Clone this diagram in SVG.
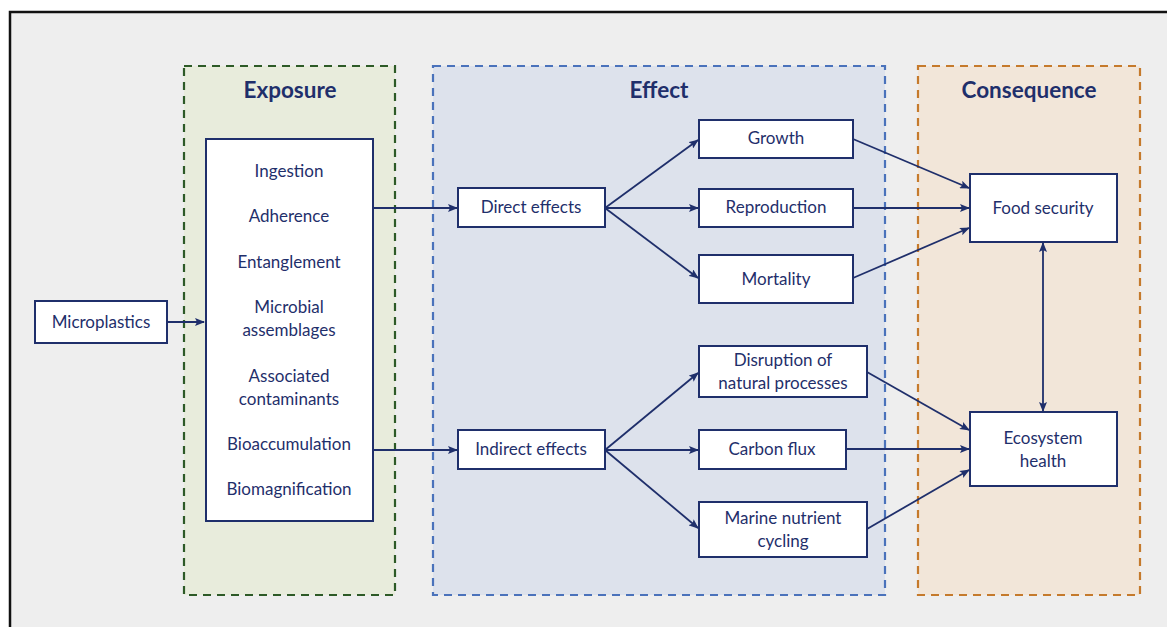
<svg xmlns="http://www.w3.org/2000/svg" width="1167" height="627" viewBox="0 0 1167 627">
<defs>
<marker id="ah" markerWidth="10" markerHeight="8" refX="9" refY="4" orient="auto" markerUnits="userSpaceOnUse">
<path d="M0,0 L10,4 L0,8 L2,4 Z" fill="#1f2f6b"/>
</marker>
<marker id="ahs" markerWidth="10" markerHeight="8" refX="1" refY="4" orient="auto" markerUnits="userSpaceOnUse">
<path d="M10,0 L0,4 L10,8 L8,4 Z" fill="#1f2f6b"/>
</marker>
</defs>
<style>
.box{fill:#ffffff;stroke:#1f2f6b;stroke-width:2}
.t{font-family:Lato,"Open Sans","Liberation Sans",sans-serif;font-size:17px;fill:#1f2f6b;text-anchor:middle}
.h{font-family:Lato,"Open Sans","Liberation Sans",sans-serif;font-size:22.5px;font-weight:bold;fill:#1f2f6b;text-anchor:middle}
.c{fill:none;stroke:#1f2f6b;stroke-width:1.8;marker-end:url(#ah)}
</style>
<rect width="1167" height="627" fill="#ffffff"/>
<rect x="10" y="12" width="1170" height="630" fill="#eeeeee" stroke="#111111" stroke-width="2.5"/>

<g id="exposure">
<rect x="184" y="66" width="211" height="529" fill="#e8ecdc" stroke="#2d5a27" stroke-width="2.2" stroke-dasharray="8,6"/>
<text class="h" x="290" y="98">Exposure</text>
</g>
<g id="effect">
<rect x="433" y="66" width="452" height="529" fill="#dde2ec" stroke="#4a72bb" stroke-width="2.2" stroke-dasharray="8,6"/>
<text class="h" x="659" y="98">Effect</text>
</g>
<g id="consequence">
<rect x="918" y="66" width="222" height="529" fill="#f2e6d9" stroke="#c57a2c" stroke-width="2.2" stroke-dasharray="8,6"/>
<text class="h" x="1029" y="98">Consequence</text>
</g>

<g id="microplastics">
<rect class="box" x="35" y="301" width="132" height="42"/>
<text class="t" x="101" y="328">Microplastics</text>
</g>
<g id="exposure-list">
<rect class="box" x="206" y="139" width="167" height="382"/>
<text class="t" x="289" y="177">Ingestion</text>
<text class="t" x="289" y="222">Adherence</text>
<text class="t" x="289" y="268">Entanglement</text>
<text class="t" x="289" y="313">Microbial</text>
<text class="t" x="289" y="336">assemblages</text>
<text class="t" x="289" y="382">Associated</text>
<text class="t" x="289" y="405">contaminants</text>
<text class="t" x="289" y="450">Bioaccumulation</text>
<text class="t" x="289" y="495">Biomagnification</text>
</g>
<g id="direct">
<rect class="box" x="458" y="188" width="147" height="39"/>
<text class="t" x="531" y="213">Direct effects</text>
</g>
<g id="indirect">
<rect class="box" x="458" y="430" width="147" height="39"/>
<text class="t" x="531" y="455">Indirect effects</text>
</g>
<g id="growth">
<rect class="box" x="699" y="120" width="154" height="38"/>
<text class="t" x="776" y="144">Growth</text>
</g>
<g id="reproduction">
<rect class="box" x="699" y="189" width="154" height="38"/>
<text class="t" x="776" y="213">Reproduction</text>
</g>
<g id="mortality">
<rect class="box" x="699" y="255" width="154" height="48"/>
<text class="t" x="776" y="285">Mortality</text>
</g>
<g id="disruption">
<rect class="box" x="699" y="346" width="168" height="51"/>
<text class="t" x="783" y="366">Disruption of</text>
<text class="t" x="783" y="389">natural processes</text>
</g>
<g id="carbon">
<rect class="box" x="699" y="430" width="147" height="39"/>
<text class="t" x="772" y="455">Carbon flux</text>
</g>
<g id="marine">
<rect class="box" x="699" y="502" width="168" height="55"/>
<text class="t" x="783" y="524">Marine nutrient</text>
<text class="t" x="783" y="547">cycling</text>
</g>
<g id="food">
<rect class="box" x="970" y="174" width="147" height="68"/>
<text class="t" x="1043" y="214">Food security</text>
</g>
<g id="ecosystem">
<rect class="box" x="970" y="412" width="147" height="74"/>
<text class="t" x="1043" y="444">Ecosystem</text>
<text class="t" x="1043" y="467">health</text>
</g>

<g id="connectors">
<line class="c" x1="167" y1="322" x2="204" y2="322"/>
<line class="c" x1="373" y1="208" x2="457" y2="208"/>
<line class="c" x1="373" y1="450" x2="457" y2="450"/>
<line class="c" x1="605" y1="208" x2="698" y2="140"/>
<line class="c" x1="605" y1="208" x2="698" y2="208"/>
<line class="c" x1="605" y1="208" x2="698" y2="278"/>
<line class="c" x1="605" y1="450" x2="698" y2="373"/>
<line class="c" x1="605" y1="450" x2="698" y2="450"/>
<line class="c" x1="605" y1="450" x2="698" y2="528"/>
<line class="c" x1="853" y1="139" x2="969" y2="188"/>
<line class="c" x1="853" y1="208" x2="969" y2="208"/>
<line class="c" x1="853" y1="278" x2="969" y2="228"/>
<line class="c" x1="867" y1="372" x2="969" y2="430"/>
<line class="c" x1="846" y1="449" x2="969" y2="449"/>
<line class="c" x1="867" y1="529" x2="969" y2="470"/>
<line class="c" x1="1043" y1="243" x2="1043" y2="411" marker-start="url(#ahs)"/>
</g>
</svg>
